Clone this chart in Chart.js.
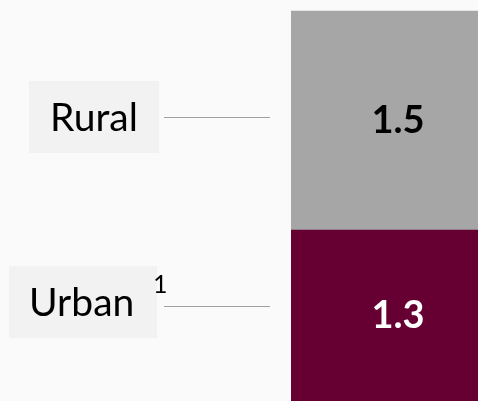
<!DOCTYPE html>
<html>
<head>
<meta charset="utf-8">
<script src="https://cdn.jsdelivr.net/npm/chart.js@4.4.1/dist/chart.umd.min.js"></script>
<style>
  html, body { margin: 0; padding: 0; background: #fafafa; overflow: hidden; }
  #wrap { position: relative; width: 505px; height: 401px; }
</style>
</head>
<body>
<div id="wrap"><canvas id="chart"></canvas></div>
<script>
const categories = ["Total"];
const seriesNames = ["Urban", "Rural"];
const urbanValues = [1.3];
const ruralValues = [1.5];
const footnoteMarks = ["1", ""];
const seriesColors = ["#660033", "#a6a6a6"];
const valueTextColors = ["#ffffff", "#000000"];

// label boxes on the left: x, width, vertical nudge from the segment middle
const labelBoxes = [
  { x: 9, w: 148, dy: -13.5, lineDy: 4, textX: 29 },
  { x: 29, w: 130, dy: -3.5, lineDy: 0, textX: 50 },
];

const segmentMiddle = (el, area) => {
  const top = Math.max(Math.min(el.y, el.base), area.top);
  const bottom = Math.min(Math.max(el.y, el.base), area.bottom);
  return (top + bottom) / 2;
};

const labelsPlugin = {
  id: "segmentLabels",
  afterDatasetsDraw(chart) {
    const ctx = chart.ctx;
    const area = chart.chartArea;
    ctx.save();
    chart.data.datasets.forEach((ds, i) => {
      const meta = chart.getDatasetMeta(i);
      meta.data.forEach((el, j) => {
        const mid = segmentMiddle(el, area);
        // value inside the bar
        ctx.font = "bold 38px Lato";
        ctx.fillStyle = valueTextColors[i];
        ctx.textAlign = "center";
        ctx.textBaseline = "middle";
        ctx.fillText(ds.data[j].toFixed(1), el.x, mid);

        // category label on the left
        const box = labelBoxes[i];
        const cy = Math.round(mid + box.dy);
        ctx.fillStyle = "#f2f2f2";
        ctx.fillRect(box.x, cy - 36, box.w, 72);
        ctx.font = "39px Lato";
        ctx.fillStyle = "#000000";
        ctx.textAlign = "left";
        ctx.textBaseline = "alphabetic";
        ctx.fillText(ds.label, box.textX, cy + 14);
        if (footnoteMarks[i]) {
          ctx.font = "25px Lato";
          ctx.fillText(footnoteMarks[i], 153, cy - 9);
        }
        ctx.strokeStyle = "#a0a0a0";
        ctx.lineWidth = 1;
        ctx.beginPath();
        const ly = Math.round(cy + box.lineDy) + 0.5;
        ctx.moveTo(164, ly);
        ctx.lineTo(270, ly);
        ctx.stroke();
      });
    });
    ctx.restore();
  },
};

new Chart(document.getElementById("chart"), {
  type: "bar",
  data: {
    labels: categories,
    datasets: [
      { label: seriesNames[0], data: urbanValues, backgroundColor: seriesColors[0] },
      { label: seriesNames[1], data: ruralValues, backgroundColor: seriesColors[1] },
    ],
  },
  options: {
    responsive: true,
    maintainAspectRatio: false,
    animation: false,
    devicePixelRatio: 1,
    layout: { padding: { left: 291, right: 0, top: 0, bottom: 0 } },
    datasets: { bar: { barPercentage: 1, categoryPercentage: 1, borderWidth: 0 } },
    scales: {
      x: { stacked: true, display: false },
      y: { stacked: true, display: false, min: 0.13, max: 2.875 },
    },
    plugins: {
      legend: { display: false },
      tooltip: { enabled: false },
    },
  },
  plugins: [labelsPlugin],
});
</script>
</body>
</html>
